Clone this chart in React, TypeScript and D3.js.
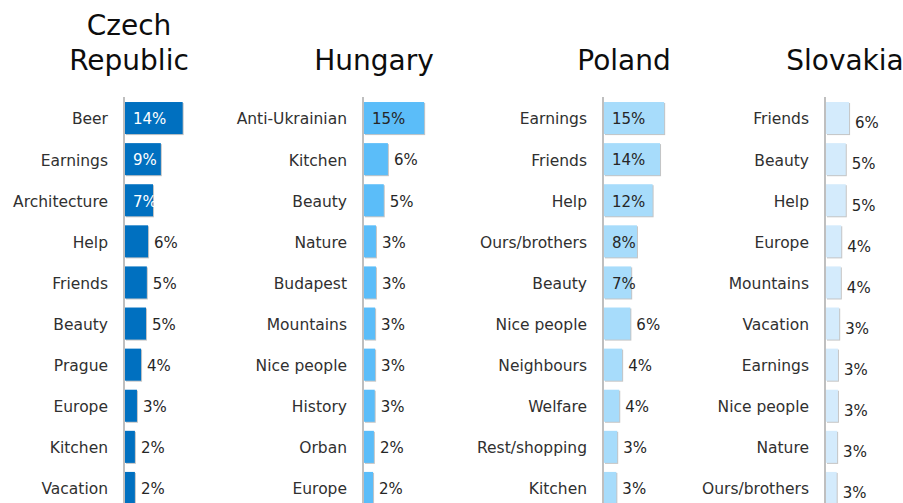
import React from "react";
import * as d3 from "d3";

const czCategories = ["Beer", "Earnings", "Architecture", "Help", "Friends", "Beauty", "Prague", "Europe", "Kitchen", "Vacation"];
const czValues = [14.0, 8.7, 6.8, 5.6, 5.3, 5.1, 3.9, 2.9, 2.4, 2.4];

const huCategories = ["Anti-Ukrainian", "Kitchen", "Beauty", "Nature", "Budapest", "Mountains", "Nice people", "History", "Orban", "Europe"];
const huValues = [14.6, 5.8, 4.8, 2.9, 2.9, 2.7, 2.7, 2.6, 2.4, 2.2];

const plCategories = ["Earnings", "Friends", "Help", "Ours/brothers", "Beauty", "Nice people", "Neighbours", "Welfare", "Rest/shopping", "Kitchen"];
const plValues = [14.6, 13.6, 11.8, 8.0, 6.6, 6.4, 4.4, 3.7, 3.2, 3.0];

const skCategories = ["Friends", "Beauty", "Help", "Europe", "Mountains", "Vacation", "Earnings", "Nice people", "Nature", "Ours/brothers"];
const skValues = [5.6, 4.8, 4.8, 3.7, 3.6, 3.2, 2.9, 2.9, 2.7, 2.6];

const titles = [["Czech", "Republic"], ["Hungary"], ["Poland"], ["Slovakia"]];

const FONT = "'DejaVu Sans', sans-serif";

type Panel = {
  title: string[];
  cats: string[];
  vals: number[];
  axisX: number;
  titleX: number;
  fill: string;
  insideColor: string;
  insideMin: number;
  outDy: number;
};

const panels: Panel[] = [
  { title: titles[0], cats: czCategories, vals: czValues, axisX: 124, titleX: 129, fill: "#0070C0", insideColor: "#FFFFFF", insideMin: 6.5, outDy: 0 },
  { title: titles[1], cats: huCategories, vals: huValues, axisX: 363, titleX: 374, fill: "#5BBDF9", insideColor: "#262626", insideMin: 10, outDy: 0 },
  { title: titles[2], cats: plCategories, vals: plValues, axisX: 603, titleX: 624, fill: "#A7DCFB", insideColor: "#262626", insideMin: 6.5, outDy: 0 },
  { title: titles[3], cats: skCategories, vals: skValues, axisX: 825, titleX: 845, fill: "#D4EBFC", insideColor: "#262626", insideMin: 100, outDy: 4 },
];

const x = d3.scaleLinear().domain([0, 15]).range([0, 15 * 4.12]);
const y = d3.scaleBand<number>().domain(d3.range(10)).range([97.5, 508.5]).paddingInner(0.22).paddingOuter(0.11);

function PanelView({ p }: { p: Panel }) {
  const bw = y.bandwidth();
  return (
    <g>
      {p.title.map((t, i) => (
        <text key={t} x={p.titleX} y={p.title.length === 2 ? 35 + i * 35 : 70} textAnchor="middle" fontFamily={FONT} fontSize={28} fill="#0D0D0D">
          {t}
        </text>
      ))}
      {p.vals.map((v, i) => {
        const y0 = y(i)!;
        const w = x(v);
        const inside = v >= p.insideMin;
        const cy = y0 + bw / 2 + 1;
        return (
          <g key={i}>
            <text x={p.axisX - 16} y={cy} dy="0.35em" textAnchor="end" fontFamily={FONT} fontSize={15.5} fill="#303030">
              {p.cats[i]}
            </text>
            <rect x={p.axisX + 2} y={y0 + 1} width={w} height={bw} fill="#9E9E9E" opacity={0.6} />
            <rect x={p.axisX + 1} y={y0} width={w} height={bw} fill={p.fill} />
            {inside ? (
              <text x={p.axisX + 9} y={cy} dy="0.35em" fontFamily={FONT} fontSize={15} fill={p.insideColor}>
                {Math.round(v)}%
              </text>
            ) : (
              <text x={p.axisX + 1 + w + 6} y={cy + p.outDy} dy="0.35em" fontFamily={FONT} fontSize={15} fill="#262626">
                {Math.round(v)}%
              </text>
            )}
          </g>
        );
      })}
      <line x1={p.axisX} x2={p.axisX} y1={97} y2={503} stroke="#BFBFBF" strokeWidth={2} />
    </g>
  );
}

export default function App() {
  return (
    <svg width={903} height={503} style={{ position: "absolute", left: 0, top: 0, background: "#fff" }}>
      <rect width={903} height={503} fill="#fff" />
      {panels.map((p, i) => (
        <PanelView key={i} p={p} />
      ))}
    </svg>
  );
}
